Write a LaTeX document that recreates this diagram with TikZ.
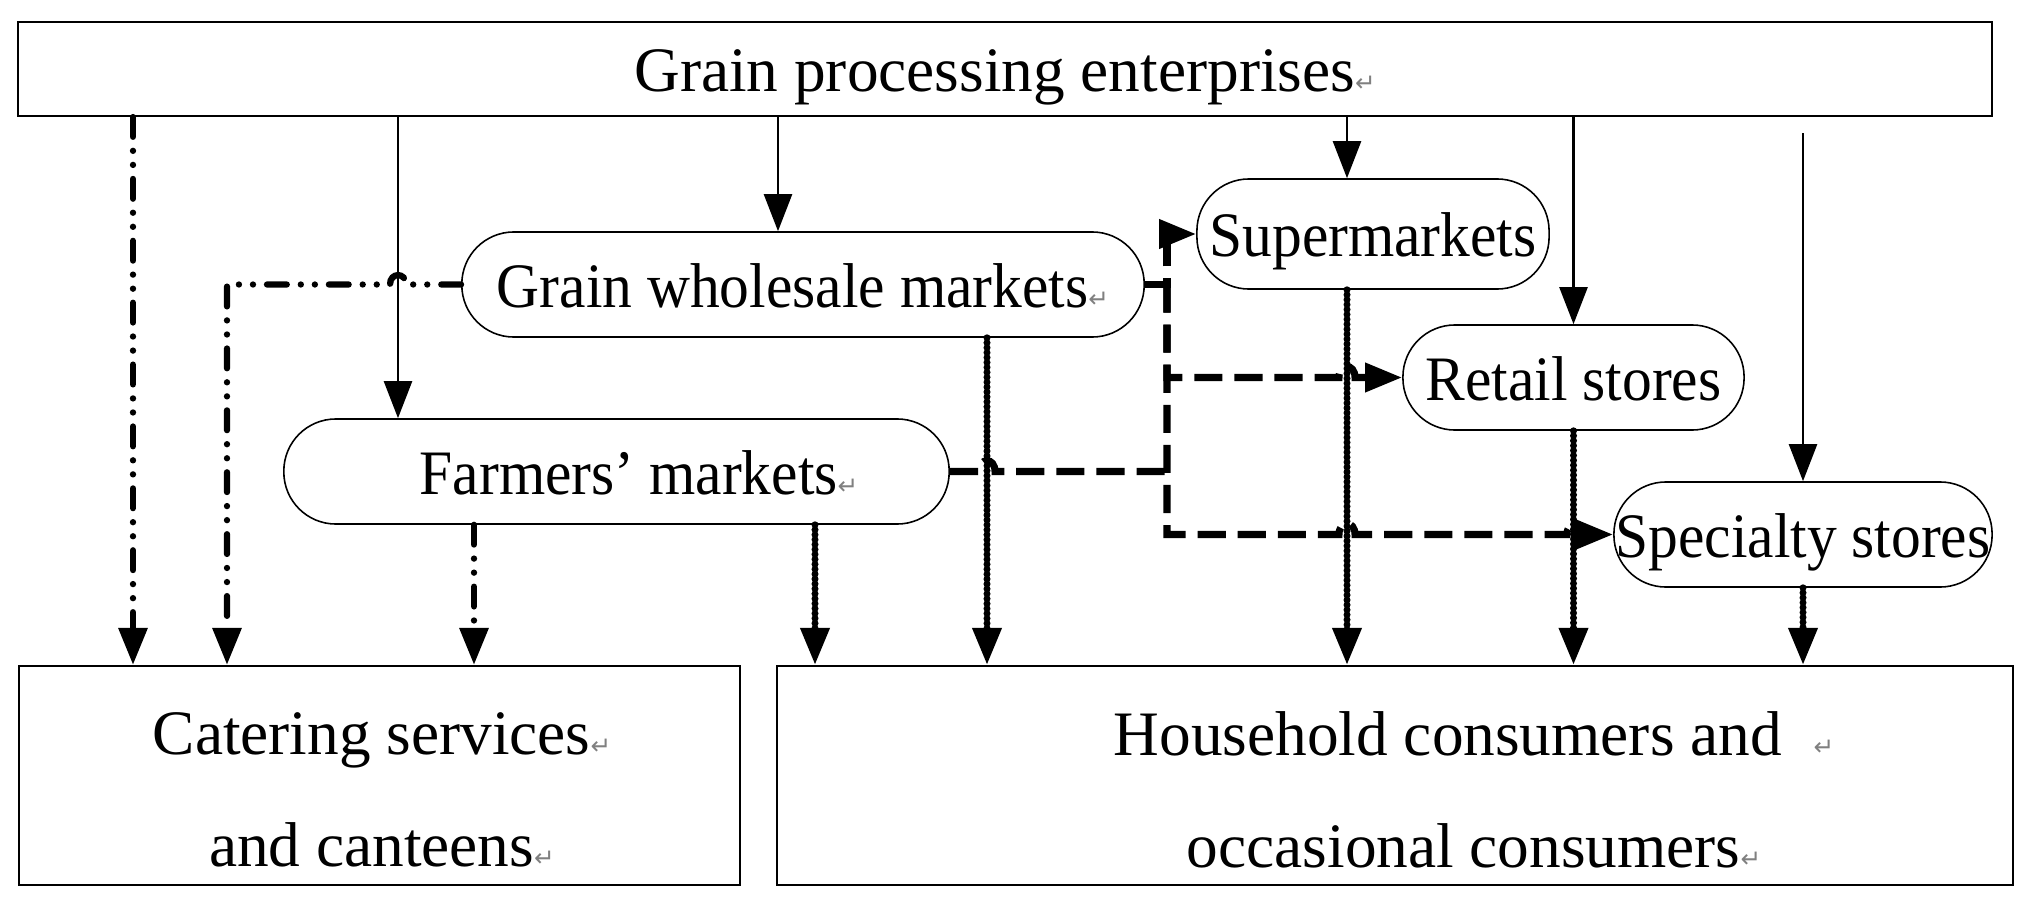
\documentclass[tikz,border=0pt]{standalone}
\usepackage{fontspec}
\setmainfont{Liberation Serif}
\newfontfamily\narrowfont{Liberation Serif}[FakeStretch = 0.94]
\newfontfamily\retfont{DejaVu Sans}
\usetikzlibrary{arrows.meta}
\newcommand{\retmark}{{\retfont\fontsize{7}{7}\selectfont\color{gray}↵}}

\begin{document}
\begin{tikzpicture}[x = 0.01cm, y = -0.01cm, align = center,
        font = \fontsize{18}{32}\selectfont,
        > = {Triangle[length = 3.7mm, width = 2.8mm]},
        box/.style = {draw, line width = 0.6pt, inner sep = 0pt},
        pill/.style = {draw, line width = 0.45pt, inner sep = 0pt, rounded corners = 0.52cm,
            minimum height = 1.05cm, font = \fontsize{18}{32}\selectfont\narrowfont},
        oneline/.style = {text height = 0.45cm, text depth = 0cm},
        solidline/.style = {line width = 0.7pt},
        ddline/.style = {line width = 1.8pt, line cap = round,
            dash pattern = on 5.6pt off 4pt on 0pt off 4pt on 0pt off 4pt},
        dotline/.style = {line width = 2pt, line cap = round, dash pattern = on 0pt off 1.4pt},
        dashline/.style = {line width = 2pt, dash pattern = on 8pt off 3.4pt}]
        \useasboundingbox (0, 0) rectangle (2030, 903);
        \node[box, oneline, minimum width = 19.72cm, minimum height = 0.94cm] (0) at (1005, 69) {Grain processing enterprises\retmark};
        \node[pill, oneline, minimum width = 6.82cm] (1) at (803, 284.5) {Grain wholesale markets\retmark};
        \node[pill, oneline, minimum width = 3.52cm, minimum height = 1.10cm] (2) at (1373, 234) {Supermarkets};
        \node[pill, oneline, minimum width = 3.41cm] (3) at (1573.5, 377.5) {Retail stores};
        \node[pill, oneline, minimum width = 6.65cm] (4) at (616.5, 471.5) {\hspace*{0.45cm}Farmers’ markets\retmark};
        \node[pill, oneline, minimum width = 3.78cm] (5) at (1803, 534.5) {Specialty stores};
        \node[box, minimum width = 7.21cm, minimum height = 2.19cm] (6) at (379.5, 775.5) {};
        \node (6t) at (382, 790) {Catering services\retmark\\and canteens\retmark};
        \node[box, minimum width = 12.36cm, minimum height = 2.19cm] (7) at (1395, 775.5) {};
        \node (7t) at (1474, 790) {Household consumers and~~\retmark\\occasional consumers\retmark};

        \draw[solidline, ->] (0.south -| 398,0) -- (4.north -| 398,0);
        \draw[solidline, ->] (0.south -| 778,0) -- (1.north -| 778,0);
        \draw[solidline, ->] (0.south -| 1347,0) -- (2.north -| 1347,0);
        \draw[solidline, ->] (0.south -| 3.north) -- (3.north);
        \draw[solidline, ->, shorten <= 0.16cm] (0.south -| 5.north) -- (5.north);

        \draw[ddline, ->] (0.south -| 133,0) -- (6.north -| 133,0);
        \draw[ddline, ->] (1.west) -- (406, 284.5) .. controls (406, 272) and (390, 272) .. (390, 284.5)
            -- (227, 284.5) -- (6.north -| 227,0);
        \draw[ddline, ->] (4.south -| 474,0) -- (6.north -| 474,0);

        \draw[dotline, ->] (4.south -| 815,0) -- (7.north -| 815,0);
        \draw[dotline, ->] (1.south -| 987,0) -- (7.north -| 987,0);
        \draw[dotline, ->] (2.south -| 1347,0) -- (7.north -| 1347,0);
        \draw[dotline, ->] (3.south) -- (7.north -| 3.south);
        \draw[dotline, ->] (5.south) -- (7.north -| 5.south);

        \coordinate (j) at (1167, 284.5);
        \draw[dashline, ->] (1.east) -- (j) |- (2.west);
        \draw[dashline, ->] (j) |- (1339, 377.5) .. controls (1339, 363) and (1355, 363) .. (1355, 377.5) -- (3.west);
        \draw[dashline, ->] (j) |- (1339, 534.5) .. controls (1339, 520) and (1355, 520) .. (1355, 534.5)
            -- (1567, 534.5) .. controls (1567, 520) and (1583, 520) .. (1583, 534.5) -- (5.west);
        \draw[dashline] (4.east) -- (979, 471.5) .. controls (979, 457) and (995, 457) .. (995, 471.5) -- (j |- 4.east);
    \end{tikzpicture}
\end{document}
